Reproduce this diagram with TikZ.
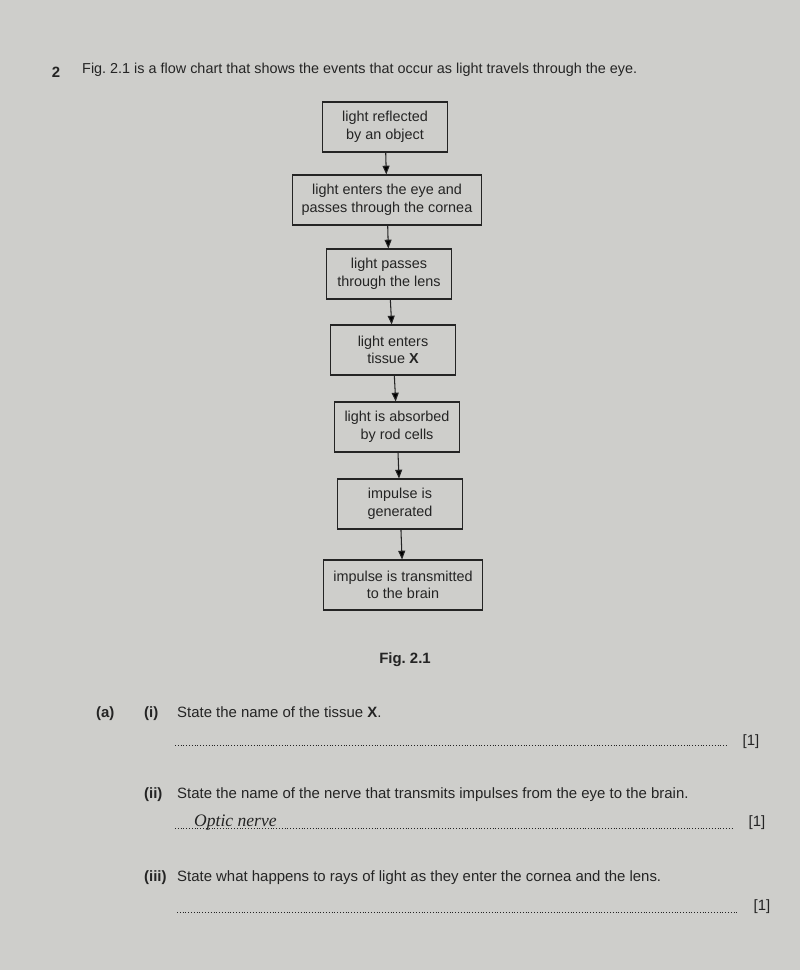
\documentclass[tikz,border=0pt]{standalone}
\usepackage{fontspec}
\setmainfont{Liberation Sans}
\newfontfamily\handfont{Liberation Serif}
\usetikzlibrary{arrows.meta}
\definecolor{paper}{RGB}{206,206,203}
\definecolor{ink}{RGB}{36,36,36}

\begin{document}
\begin{tikzpicture}[x=0.02cm,y=-0.02cm,
  every node/.style={text=ink,font=\fontsize{8.5}{10}\selectfont},
  small/.style={font=\fontsize{8.2}{10}\selectfont},
  stage/.style={small,draw=ink,line width=0.6pt,fill=paper,align=center,minimum width=2.5cm,minimum height=1cm,inner xsep=5.5pt},
  flow/.style={draw=ink,line width=0.6pt,-{Triangle[length=5pt,width=4pt]}},
  answer/.style={draw=ink,line width=0.5pt,dash pattern=on 0.5pt off 1.1pt},
  score/.style={anchor=base}]

\fill[paper] (0,0) rectangle (800,970);

\node (qnum) at (56,72) {\bfseries 2};
\node[small,anchor=west] (intro) at (76,70) {Fig.~2.1 is a flow chart that shows the events that occur as light travels through the eye.};

\node[stage] (s1) at (385,127) {light reflected\\by an object};
\node[stage] (s2) at (387,200) {light enters the eye and\\passes through the cornea};
\node[stage] (s3) at (389,274) {light passes\\through the lens};
\node[stage] (s4) at (393,350) {light enters\\tissue \textbf{X}};
\node[stage] (s5) at (397,427) {light is absorbed\\by rod cells};
\node[stage] (s6) at (400,504) {impulse is\\generated};
\node[stage] (s7) at (403,585) {impulse is transmitted\\to the brain};

\path[flow] (s1) edge (s2) (s2) edge (s3) (s3) edge (s4)
  (s4) edge (s5) (s5) edge (s6) (s6) edge (s7);

\node (figlabel) at (405,660) {\bfseries Fig.~2.1};

% part (a)
\node[anchor=base west] (parta) at (90,717) {\bfseries (a)};
\node[anchor=base west] (qi) at (138,717) {\bfseries (i)};
\node[anchor=base west] (qitext) at (171,717) {State the name of the tissue \textbf{X}.};
\draw[answer] (175,745) -- (728,745);
\node[score] (scorei) at (751,745) {[1]};

\node[anchor=base west] (qii) at (138,798) {\bfseries (ii)};
\node[anchor=base west] (qiitext) at (171,798) {State the name of the nerve that transmits impulses from the eye to the brain.};
\draw[answer] (175,828) -- (732,828);
\node[anchor=base west,font=\handfont\itshape\fontsize{10}{12}\selectfont] (handans) at (188,826) {Optic nerve};
\node[score] (scoreii) at (757,826) {[1]};

\node[anchor=base west] (qiii) at (138,881) {\bfseries (iii)};
\node[anchor=base west] (qiiitext) at (171,881) {State what happens to rays of light as they enter the cornea and the lens.};
\draw[answer] (177,912) -- (737,912);
\node[score] (scoreiii) at (762,910) {[1]};

\end{tikzpicture}
\end{document}
